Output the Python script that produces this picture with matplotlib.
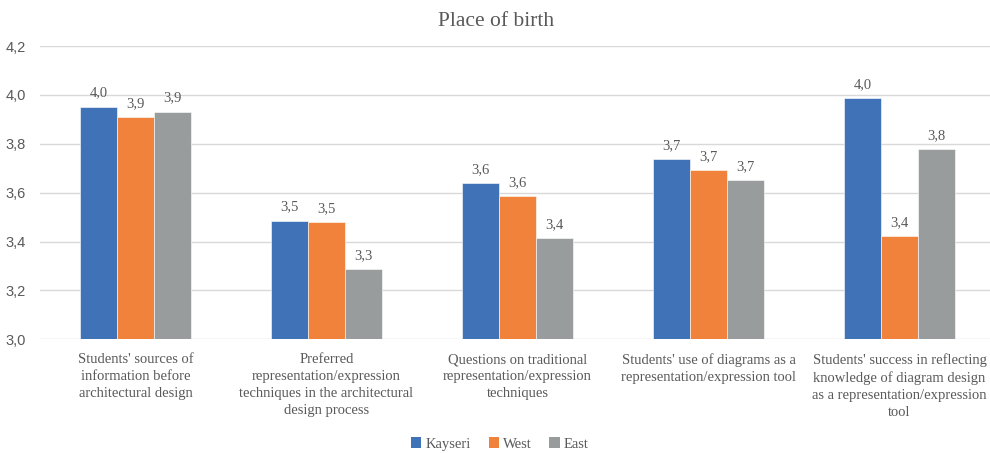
import matplotlib
matplotlib.use("Agg")
import matplotlib.pyplot as plt
import numpy as np
from matplotlib.patches import Patch

categories = [
    "Students' sources of\ninformation before\narchitectural design",
    "Preferred\nrepresentation/expression\ntechniques in the architectural\ndesign process",
    "Questions on traditional\nrepresentation/expression\ntechniques",
    "Students' use of diagrams as a\nrepresentation/expression tool",
    "Students' success in reflecting\nknowledge of diagram design\nas a representation/expression\ntool",
]
series_names = ["Kayseri", "West", "East"]
kayseri = [3.952, 3.486, 3.639, 3.737, 3.986]
west = [3.911, 3.480, 3.586, 3.694, 3.422]
east = [3.932, 3.287, 3.415, 3.652, 3.778]
y_ticks = [3.0, 3.2, 3.4, 3.6, 3.8, 4.0, 4.2]

colors = ["#4072B8", "#F0823C", "#999C9D"]
text_color = "#595959"
serif = ["Liberation Serif", "DejaVu Serif"]
sans = ["Liberation Sans", "DejaVu Sans"]

fig = plt.figure(figsize=(9.9, 4.53), dpi=100)
ax = fig.add_axes([40 / 990, 1 - 339.3 / 453, 955 / 990, (339.3 - 46) / 453])

x = np.arange(len(categories))
width = 0.194
for i, (vals, col) in enumerate(zip([kayseri, west, east], colors)):
    pos = x + (i - 1) * width
    ax.bar(pos, np.array(vals) - 3.0, width, bottom=3.0, color=col,
           edgecolor="white", linewidth=0.4, zorder=3)
    for p, v in zip(pos, vals):
        ax.annotate(f"{v:.1f}".replace(".", ","), (p, v), xytext=(0, 5),
                    textcoords="offset points", ha="center", va="bottom",
                    fontsize=10.5, color=text_color, family=serif)

ax.set_ylim(3.0, 4.2)
ax.set_xlim(-0.5, 4.5)
ax.set_yticks(y_ticks)
ax.set_yticklabels([f"{t:.1f}".replace(".", ",") for t in y_ticks],
                   fontsize=10.5, color=text_color, family=sans)
ax.yaxis.grid(True, color="#D9D9D9", linewidth=1, zorder=0)
ax.set_axisbelow(True)
for s in ax.spines.values():
    s.set_visible(False)
ax.tick_params(axis="both", length=0)
ax.tick_params(axis="y", pad=10)
ax.set_xticks(x)
ax.set_xticklabels(categories, fontsize=10.5, color=text_color, family=serif,
                   linespacing=1.4)
ax.tick_params(axis="x", pad=10)

fig.text(496 / 990, 1 - 22 / 453, "Place of birth", ha="center", va="center",
         fontsize=15.5, color=text_color, family=serif)

handles = [Patch(facecolor=c, edgecolor="none") for c in colors]
fig.legend(handles, series_names, loc="center", bbox_to_anchor=(500 / 990, 1 - 444 / 453),
           ncol=3, frameon=False, prop={"family": serif, "size": 10.5},
           labelcolor=text_color, handlelength=0.7, handleheight=0.7,
           handletextpad=0.3, columnspacing=1.2)

fig.savefig("out.png", dpi=100)
